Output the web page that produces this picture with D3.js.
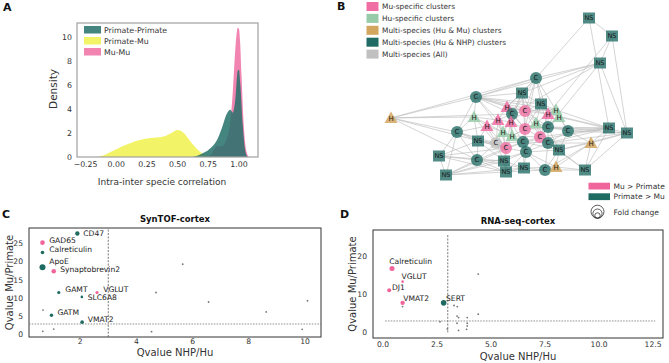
<!DOCTYPE html>
<html>
<head>
<meta charset="utf-8">
<script src="https://cdn.jsdelivr.net/npm/d3@7"></script>
<style>
  body { margin: 0; background: #fff; }
  text { font-family: "DejaVu Sans", sans-serif; }
</style>
</head>
<body>
<svg id="chart" width="669" height="363"></svg>
<script>
// ---------- Panel A: density of intra/inter species correlation ----------
const ppX = [0.62, 0.66, 0.70, 0.74, 0.78, 0.82, 0.86, 0.90, 0.93, 0.95, 0.97, 0.99, 1.00, 1.01, 1.03, 1.05, 1.07]
const ppY = [0, 0.1, 0.3, 0.5, 0.85, 1.4, 2.4, 3.6, 3.95, 3.7, 4.8, 7.2, 7.3, 6.2, 2.8, 0.6, 0]
const pmX = [-0.16, -0.10, -0.05, 0.00, 0.05, 0.10, 0.15, 0.20, 0.25, 0.30, 0.35, 0.40, 0.45, 0.50, 0.55, 0.60, 0.65, 0.70, 0.75, 0.80]
const pmY = [0, 0.15, 0.4, 0.65, 0.9, 1.1, 1.3, 1.45, 1.55, 1.6, 1.65, 1.75, 2.0, 2.25, 2.0, 1.35, 0.75, 0.3, 0.08, 0]
const mmX = [0.74, 0.78, 0.82, 0.86, 0.90, 0.93, 0.95, 0.97, 0.99, 1.00, 1.01, 1.02, 1.04, 1.06, 1.08]
const mmY = [0, 0.3, 0.9, 0.9, 1.5, 3.0, 5.5, 9.0, 10.8, 10.7, 9.5, 7.0, 2.5, 0.5, 0]
const densityNames = ['Primate-Primate', 'Primate-Mu', 'Mu-Mu']
const densityTicksX = [-0.25, 0, 0.25, 0.5, 0.75, 1.0]
const densityTicksY = [0, 2, 4, 6, 8, 10]

// ---------- Panel B: cluster network ----------
const nodeLabel = ['NS','NS','NS','C','C','NS','NS','H','C','H','H','H','C','H','H','H','H','H','C','C','H','C','C','NS','NS','H','H','C','NS','C','C','C','C','H','C','NS','NS','C','NS','NS','NS','C','H','NS','NS']
const nodeGroup = ['hunhp','hunhp','hunhp','hunhp','hunhp','hunhp','hunhp','mu','mu','hu','hu','mu','hunhp','humu','hu','mu','mu','mu','hunhp','mu','hu','hunhp','hunhp','hunhp','hunhp','hu','hu','mu','hunhp','all','mu','hunhp','hunhp','humu','hunhp','hunhp','hunhp','hunhp','hunhp','hunhp','hunhp','hunhp','humu','hunhp','hunhp']
// layout coordinates (spring layout)
const nodeLX = [209,232,220,156,96,142,161,127,145,176,179,168,132,11,94,118,131,107,77,145,156,168,188,229,247,123,132,160,98,116,126,143,168,211,146,179,59,97,124,126,144,165,176,205,66]
const nodeLY = [18,36,63,78,97,93,104,107,111,110,117,114,114,118,117,120,122,126,132,129,123,127,131,128,133,132,136,137,141,143,148,142,143,143,152,150,156,160,161,172,168,170,167,170,175]
const edges = [
  [0,1],[0,3],[0,23],[1,2],[1,11],[1,24],[2,3],[2,4],[2,5],[2,12],[2,24],[2,21],
  [3,4],[3,5],[3,6],[3,13],[3,12],[3,8],[3,9],[3,7],[3,19],[3,11],
  [13,4],[13,12],[13,18],[13,37],[13,14],
  [4,5],[4,6],[4,14],[4,18],[4,12],[4,8],[4,7],[4,15],[4,23],[4,9],[4,25],
  [5,6],[5,7],[5,8],[5,12],[5,19],[5,16],[5,20],
  [6,8],[6,9],[6,11],[6,21],[6,20],[6,10],[6,19],
  [7,8],[7,12],[7,15],[7,16],[7,19],[7,26],
  [8,9],[8,11],[8,12],[8,19],[8,20],[8,21],[8,27],[8,16],
  [9,10],[9,11],[9,21],[9,22],[9,23],
  [10,22],[10,21],[10,24],[10,27],
  [11,20],[11,21],[11,27],
  [12,15],[12,16],[12,19],[12,25],[12,26],[12,30],
  [14,15],[14,17],[14,18],[14,25],[14,28],[14,29],
  [15,16],[15,17],[15,25],[15,29],[15,30],
  [16,19],[16,25],[16,26],[16,31],
  [17,18],[17,25],[17,28],[17,29],[17,30],
  [18,28],[18,29],[18,36],[18,37],[18,44],[18,30],
  [19,20],[19,26],[19,27],[19,31],[19,34],[19,21],
  [20,21],[20,27],[20,32],[20,26],
  [21,22],[21,27],[21,32],[21,23],[21,35],[21,24],
  [22,23],[22,24],[22,32],[22,33],[22,35],
  [23,31],[23,27],[23,32],[23,33],[23,19],[23,43],
  [24,33],[24,43],[24,32],[24,35],
  [25,26],[25,29],[25,30],[25,31],
  [26,30],[26,31],[26,27],[26,34],
  [27,31],[27,32],[27,34],[27,35],
  [28,29],[28,37],[28,36],[28,38],[28,30],
  [29,30],[29,37],[29,38],[29,31],
  [30,31],[30,34],[30,38],[30,39],[30,37],
  [31,32],[31,34],[31,40],[31,35],
  [32,33],[32,35],[32,41],[32,34],[32,43],
  [33,35],[33,41],[33,42],[33,43],
  [34,35],[34,38],[34,39],[34,40],[34,41],[34,42],
  [35,41],[35,42],[35,43],
  [36,37],[36,44],[36,39],[36,38],
  [37,38],[37,39],[37,44],[37,40],
  [38,39],[38,40],[38,44],
  [39,40],[39,44],[39,41],
  [40,41],[40,42],[40,44],
  [41,42],[41,43],[42,43],
  [44,34],[36,30],[44,31],[13,30]
]
const groupKeys = ['mu', 'hu', 'humu', 'hunhp', 'all']
const groupNames = ['Mu-specific clusters', 'Hu-specific clusters', 'Multi-species (Hu & Mu) clusters', 'Multi-species (Hu & NHP) clusters', 'Multi-species (All)']
const groupColors = ['#f06ea3', '#98cca9', '#d2a65e', '#206b64', '#c0c0c0']

// ---------- Panel C: SynTOF-cortex ----------
const synGenes = ['CD47', 'GAD65', 'Calreticulin', 'ApoE', 'Synaptobrevin2', 'GAMT', 'VGLUT', 'SLC6A8', 'GATM', 'VMAT2']
const synX = [1.9, 0.66, 0.66, 0.66, 1.06, 1.24, 2.6, 2.06, 0.98, 2.07]
const synY = [27.7, 25.2, 22.5, 18.5, 17.4, 11.6, 11.6, 10.4, 5.4, 3.5]
const synFC = [2.15, 2.35, 1.44, 4.0, 2.35, 1.14, 1.14, 0.75, 1.28, 1.44]
const synDir = ['primate', 'mu', 'primate', 'primate', 'mu', 'primate', 'mu', 'primate', 'primate', 'primate']
const synLabelX = [2.11, 0.9, 0.9, 0.9, 1.29, 1.47, 2.82, 2.27, 1.19, 2.27]
const synLabelY = [27.8, 25.9, 23.4, 20.0, 18.0, 12.3, 12.3, 10.2, 6.1, 4.3]
const synOtherX = [5.65, 4.7, 6.57, 10.09, 8.62, 0.68, 0.67, 1.06, 4.54, 9.9]
const synOtherY = [19.3, 11.6, 9.0, 9.35, 6.3, 6.8, 1.0, 1.6, 0.9, 1.55]
const synTicksX = [2, 4, 6, 8, 10]
const synTicksY = [0, 5, 10, 15, 20, 25]

// ---------- Panel D: RNA-seq-cortex ----------
const rnaGenes = ['Calreticulin', 'VGLUT', 'DJ1', 'VMAT2', 'SERT']
const rnaX = [0.42, 0.91, 0.29, 0.91, 2.81]
const rnaY = [16.9, 13.4, 11.1, 7.8, 7.8]
const rnaFC = [2.8, 0.75, 1.8, 2.15, 3.5]
const rnaDir = ['mu', 'mu', 'mu', 'mu', 'primate']
const rnaLabelX = [0.29, 0.86, 0.42, 0.94, 2.92]
const rnaLabelY = [18.7, 14.7, 11.8, 9.0, 9.0]
const rnaOtherX = [0.91, 4.41, 4.41, 3.29, 3.44, 3.43, 3.5, 3.9, 2.64, 3.43, 3.9, 3.9, 2.98, 3.5, 3.87]
const rnaOtherY = [6.8, 15.4, 4.8, 7.1, 6.8, 4.3, 3.9, 3.9, 2.8, 2.4, 2.4, 1.7, 0.9, 0.5, 0.8]
const rnaTicksX = [0, 2.5, 5, 7.5, 10, 12.5]
const rnaTicksY = [0, 10, 20]

const dirColor = { mu: '#f0659b', primate: '#1e6b62' }
const svg = d3.select('#chart')
svg.append('rect').attr('width', 669).attr('height', 363).attr('fill', '#fff')

function panelLetter(t, x, y) {
  svg.append('text').attr('x', x).attr('y', y).text(t)
    .style('font-size', '11px').style('font-weight', 'bold').attr('fill', '#111')
}

// ================= Panel A =================
const ax = d3.scaleLinear().domain([-0.32, 1.155]).range([77, 258])
const ay = d3.scaleLinear().domain([0, 11.2]).range([157, 23])
const areaGen = d3.area()
  .x(d => ax(d[0]))
  .y0(ay(0))
  .y1(d => ay(d[1]))
  .curve(d3.curveMonotoneX)

const densSeries = [
  { x: pmX, y: pmY, color: '#f1f14d', name: densityNames[1] },
  { x: mmX, y: mmY, color: '#f06fa3', name: densityNames[2] },
  { x: ppX, y: ppY, color: '#25706a', name: densityNames[0] }
]
const gA = svg.append('g')
gA.append('clipPath').attr('id', 'clipA').append('rect')
  .attr('x', 77).attr('y', 23).attr('width', 181).attr('height', 134)
densSeries.forEach(s => {
  gA.append('path')
    .datum(s.x.map((v, i) => [v, s.y[i]]))
    .attr('clip-path', 'url(#clipA)')
    .attr('d', areaGen)
    .attr('fill', s.color)
    .attr('fill-opacity', 0.85)
})
gA.append('rect').attr('x', 77).attr('y', 23).attr('width', 181).attr('height', 134)
  .attr('fill', 'none').attr('stroke', '#a0a0a0').attr('stroke-width', 1.2)
gA.selectAll('.xt').data(densityTicksX).enter().append('text')
  .attr('x', d => ax(d)).attr('y', 164.5)
  .attr('text-anchor', 'middle').attr('dominant-baseline', 'central')
  .style('font-size', '7.8px').attr('fill', '#333')
  .text(d => d3.format('.2f')(d).replace('-', '\u2212'))
gA.selectAll('.yt').data(densityTicksY).enter().append('text')
  .attr('x', 72).attr('y', d => ay(d))
  .attr('text-anchor', 'end').attr('dominant-baseline', 'central')
  .style('font-size', '7.8px').attr('fill', '#333')
  .text(d => d)
gA.append('text').attr('transform', 'translate(53,89) rotate(-90)')
  .attr('text-anchor', 'middle').attr('dominant-baseline', 'central')
  .style('font-size', '10.5px').attr('fill', '#333').text('Density')
gA.append('text').attr('x', 162).attr('y', 181.5)
  .attr('text-anchor', 'middle').attr('dominant-baseline', 'central')
  .style('font-size', '9px').attr('fill', '#333').text('Intra-inter specie correlation')
const legA = [densSeries[2], densSeries[0], densSeries[1]]
legA.forEach((s, i) => {
  gA.append('rect').attr('x', 84).attr('y', 26 + i * 11).attr('width', 17).attr('height', 7.5)
    .attr('fill', s.color).attr('fill-opacity', 0.85)
  gA.append('text').attr('x', 104).attr('y', 30 + i * 11)
    .attr('dominant-baseline', 'central').style('font-size', '7.8px').attr('fill', '#333')
    .text(s.name)
})
panelLetter('A', 3, 10.7)

// ================= Panel B =================
const bx = d3.scaleLinear().domain([0, 260]).range([380, 640])
const by = d3.scaleLinear().domain([0, 180]).range([0, 180])
const colorOf = d3.scaleOrdinal().domain(groupKeys).range(groupColors)
const nodes = nodeLabel.map((l, i) => ({ label: l, group: nodeGroup[i], x: bx(nodeLX[i]), y: by(nodeLY[i]) }))
const gB = svg.append('g')
gB.selectAll('line.edge').data(edges).enter().append('line')
  .attr('x1', d => nodes[d[0]].x).attr('y1', d => nodes[d[0]].y)
  .attr('x2', d => nodes[d[1]].x).attr('y2', d => nodes[d[1]].y)
  .attr('stroke', '#bdbdbd').attr('stroke-width', 0.65)
const ng = gB.selectAll('g.node').data(nodes).enter().append('g')
  .attr('transform', d => `translate(${d.x},${d.y})`)
ng.each(function (d) {
  const g = d3.select(this)
  const fill = colorOf(d.group)
  if (d.label === 'NS') {
    g.append('rect').attr('x', -6).attr('y', -5.5).attr('width', 12).attr('height', 11)
      .attr('fill', fill).attr('fill-opacity', 0.78)
  } else if (d.label === 'C') {
    g.append('circle').attr('r', 6).attr('fill', fill).attr('fill-opacity', 0.78)
  } else {
    g.append('path').attr('d', 'M0,-6.5L6.5,5L-6.5,5Z').attr('fill', fill).attr('fill-opacity', 0.85)
  }
  g.append('text').attr('y', d.label === 'H' ? 0.8 : 0)
    .attr('text-anchor', 'middle').attr('dominant-baseline', 'central')
    .style('font-size', d.label === 'NS' ? '6.5px' : '7px').attr('fill', '#1a1a1a')
    .text(d.label)
})
groupNames.forEach((n, i) => {
  gB.append('rect').attr('x', 366.5).attr('y', 2 + i * 11.9).attr('width', 12).attr('height', 9)
    .attr('fill', groupColors[i])
  gB.append('text').attr('x', 382).attr('y', 6.5 + i * 11.9)
    .attr('dominant-baseline', 'central').style('font-size', '7.4px').attr('fill', '#333').text(n)
})
// direction / fold change legend
gB.append('rect').attr('x', 588.5).attr('y', 182.7).attr('width', 21.5).attr('height', 6.8).attr('fill', dirColor.mu)
gB.append('rect').attr('x', 588.5).attr('y', 193.3).attr('width', 21.5).attr('height', 6.8).attr('fill', dirColor.primate)
gB.append('text').attr('x', 613.5).attr('y', 186.2).attr('dominant-baseline', 'central')
  .style('font-size', '7.5px').attr('fill', '#333').text('Mu > Primate')
gB.append('text').attr('x', 613.5).attr('y', 196.8).attr('dominant-baseline', 'central')
  .style('font-size', '7.5px').attr('fill', '#333').text('Primate > Mu')
;[6.5, 4.6, 2.7].forEach(r => {
  gB.append('circle').attr('cx', 597.5).attr('cy', 218.2 - r).attr('r', r)
    .attr('fill', 'none').attr('stroke', '#333').attr('stroke-width', 0.8)
})
gB.append('text').attr('x', 613.5).attr('y', 212.7).attr('dominant-baseline', 'central')
  .style('font-size', '7.5px').attr('fill', '#333').text('Fold change')
panelLetter('B', 337, 10.3)

// ================= Scatter panels C and D =================
const rScale = d3.scaleSqrt().domain([0, 4]).range([0, 3])

function scatter(opt) {
  const g = svg.append('g')
  const x = d3.scaleLinear().domain(opt.xDomain).range([opt.left, opt.right])
  const y = d3.scaleLinear().domain(opt.yDomain).range([opt.bottom, opt.top])
  g.append('rect').attr('x', opt.left).attr('y', opt.top)
    .attr('width', opt.right - opt.left).attr('height', opt.bottom - opt.top)
    .attr('fill', 'none').attr('stroke', '#333').attr('stroke-width', 1)
  // threshold lines
  g.append('line').attr('x1', x(3)).attr('x2', x(3))
    .attr('y1', opt.vLine ? y(opt.vLine[0]) : opt.bottom).attr('y2', opt.vLine ? y(opt.vLine[1]) : opt.top)
    .attr('stroke', '#555').attr('stroke-width', 0.8).attr('stroke-dasharray', '2,1.4')
  g.append('line').attr('y1', y(3)).attr('y2', y(3))
    .attr('x1', opt.hLine ? x(opt.hLine[0]) : opt.left).attr('x2', opt.hLine ? x(opt.hLine[1]) : opt.right)
    .attr('stroke', '#777').attr('stroke-width', 0.8).attr('stroke-dasharray', '1.6,1.2')
  // background (non-significant) points
  g.selectAll('.other').data(opt.otherX).enter().append('circle')
    .attr('cx', d => x(d)).attr('cy', (d, i) => y(opt.otherY[i]))
    .attr('r', 0.9).attr('fill', '#777')
  // highlighted points
  g.selectAll('.pt').data(opt.genes).enter().append('circle')
    .attr('cx', (d, i) => x(opt.px[i])).attr('cy', (d, i) => y(opt.py[i]))
    .attr('r', (d, i) => rScale(opt.fc[i])).attr('fill', (d, i) => dirColor[opt.dir[i]])
  g.selectAll('.lbl').data(opt.genes).enter().append('text')
    .attr('x', (d, i) => x(opt.lx[i])).attr('y', (d, i) => y(opt.ly[i]))
    .attr('dominant-baseline', 'central').style('font-size', '7.6px').attr('fill', '#222')
    .text(d => d)
  // ticks
  g.selectAll('.xt').data(opt.ticksX).enter().append('text')
    .attr('x', d => x(d)).attr('y', opt.xTickY)
    .attr('text-anchor', 'middle').attr('dominant-baseline', 'central')
    .style('font-size', '7.6px').attr('fill', '#333').text(opt.fmtX)
  g.selectAll('.yt').data(opt.ticksY).enter().append('text')
    .attr('x', opt.left - 6).attr('y', d => y(d))
    .attr('text-anchor', 'end').attr('dominant-baseline', 'central')
    .style('font-size', '7.6px').attr('fill', '#333').text(d => d)
  g.append('text').attr('x', (opt.left + opt.right) / 2).attr('y', opt.top - 6)
    .attr('text-anchor', 'middle').style('font-size', '8.5px').style('font-weight', 'bold')
    .attr('fill', '#111').text(opt.title)
  g.append('text').attr('x', (opt.left + opt.right) / 2).attr('y', opt.xLabelY)
    .attr('text-anchor', 'middle').attr('dominant-baseline', 'central')
    .style('font-size', '10px').attr('fill', '#333').text('Qvalue NHP/Hu')
  g.append('text').attr('transform', `translate(${opt.yLabelX},${(opt.top + opt.bottom) / 2}) rotate(-90)`)
    .attr('text-anchor', 'middle').attr('dominant-baseline', 'central')
    .style('font-size', '10px').attr('fill', '#333').text('Qvalue Mu/Primate')
}

scatter({
  title: 'SynTOF-cortex', left: 29, right: 321, top: 228, bottom: 337,
  xDomain: [0.18, 10.57], yDomain: [-0.55, 29.2],
  genes: synGenes, px: synX, py: synY, fc: synFC, dir: synDir, lx: synLabelX, ly: synLabelY,
  otherX: synOtherX, otherY: synOtherY, ticksX: synTicksX, ticksY: synTicksY,
  fmtX: d => d, xTickY: 341.7, xLabelY: 352, yLabelX: 9
})
scatter({
  title: 'RNA-seq-cortex', left: 373, right: 663, top: 230, bottom: 338,
  xDomain: [-0.46, 12.96], yDomain: [-1.5, 27.06],
  genes: rnaGenes, px: rnaX, py: rnaY, fc: rnaFC, dir: rnaDir, lx: rnaLabelX, ly: rnaLabelY,
  otherX: rnaOtherX, otherY: rnaOtherY, ticksX: rnaTicksX, ticksY: rnaTicksY,
  fmtX: d => d3.format('.1f')(d), xTickY: 344, xLabelY: 356.5, yLabelX: 352,
  vLine: [0, 26], hLine: [0.1, 12.6]
})
panelLetter('C', 2, 218)
panelLetter('D', 340, 218)
</script>
</body>
</html>
